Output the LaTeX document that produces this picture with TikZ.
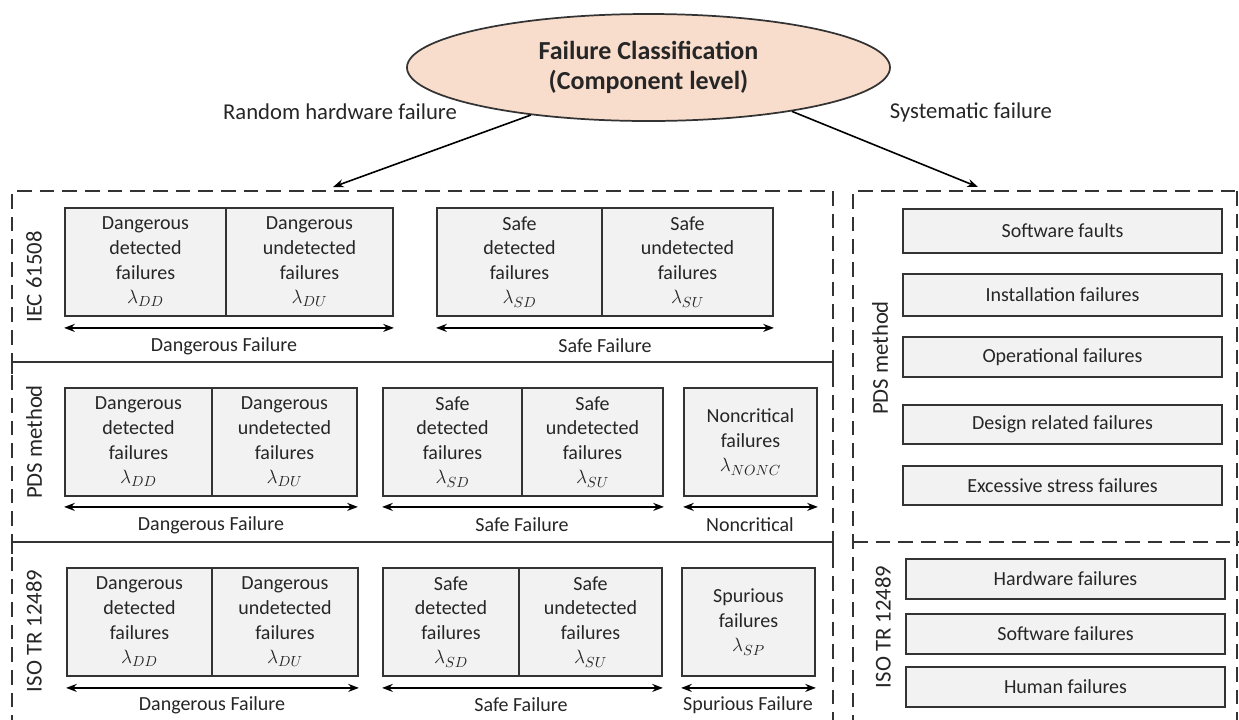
\documentclass[tikz,border=0pt]{standalone}
\usepackage{fontspec}
\setmainfont{Carlito}
\usetikzlibrary{shapes.geometric,arrows.meta}

\definecolor{cellfill}{HTML}{F2F2F2}
\definecolor{boxline}{HTML}{333333}
\definecolor{framecol}{HTML}{333333}
\definecolor{titlefill}{HTML}{F9DDCC}
\definecolor{textcol}{HTML}{262626}

\begin{document}
\begin{tikzpicture}[x=0.75pt,y=-0.75pt,
  cell/.style={draw=boxline, fill=cellfill, line width=1.35pt, inner sep=0pt,
    align=center, text=textcol, font=\fontsize{15}{18.4}\selectfont},
  % a cell given by its corners (x1,y1) and (x2,y2)
  corners/.style n args={4}{minimum width={(#3-#1)*0.75pt},
    minimum height={(#4-#2)*0.75pt}, at={({(#1+#3)/2},{(#2+#4)/2})}},
  span/.style={{Stealth[length=8pt,width=6pt]}-{Stealth[length=8pt,width=6pt]},
    line width=1.2pt, draw=black},
  pointer/.style={-{Stealth[length=8pt,width=6pt]}, line width=1.2pt, draw=black},
  caption/.style={inner sep=0pt, text=textcol, font=\fontsize{15}{18}\selectfont},
  branch/.style={inner sep=0pt, text=textcol, font=\fontsize{17}{20}\selectfont},
  side/.style={inner sep=0pt, rotate=90, text=textcol, font=\fontsize{17}{20}\selectfont},
  frame/.style={draw=framecol, line width=1.5pt, dash pattern=on 11pt off 6pt},
  rule/.style={draw=framecol, line width=1.5pt}
]
\useasboundingbox (0,0) rectangle (1239,719);
\fill[white] (0,0) rectangle (1239,719);

% ---- root of the classification ----
\node[ellipse, draw=framecol, line width=1.3pt, fill=titlefill, inner sep=0pt,
  minimum width=483*0.75pt, minimum height=107*0.75pt, align=center, text=textcol,
  font=\fontsize{19.5}{23}\selectfont\bfseries] (title) at (648.5,67.5)
  {Failure Classification\\(Component level)};

\node[branch] (randlbl) at (340,112) {Random hardware failure};
\node[branch] (syslbl) at (971,112) {Systematic failure};

\coordinate (randtip) at (333,187);
\coordinate (systip) at (978,187);
\draw[pointer] (title.202) -- (randtip);
\draw[pointer] (title.-17) -- (systip);

% ---- random hardware failure frame ----
\draw[frame] (12,730) -- (12,191) -- (833,191) -- (833,730);
\draw[rule] (12,374) -- (12,362) -- (833,362) -- (833,374);
\draw[rule] (12,554) -- (12,542) -- (833,542) -- (833,554);

\node[side] (iec) at (34,277) {IEC 61508};
\node[side] (pdsl) at (34,442) {PDS method};
\node[side] (isol) at (34,631) {ISO TR 12489};

% IEC 61508 row
\node[cell, corners={65}{208}{226}{316}] (iecdd) {Dangerous\\detected\\failures\\$\lambda_{DD}$};
\node[cell, corners={226}{208}{393}{316}] (iecdu) {Dangerous\\undetected\\failures\\$\lambda_{DU}$};
\node[cell, corners={437}{208}{602}{316}] (iecsd) {Safe\\detected\\failures\\$\lambda_{SD}$};
\node[cell, corners={602}{208}{773}{316}] (iecsu) {Safe\\undetected\\failures\\$\lambda_{SU}$};
\draw[span] ([yshift=-8.25pt]iecdd.south west) -- ([yshift=-8.25pt]iecdu.south east);
\draw[span] ([yshift=-8.25pt]iecsd.south west) -- ([yshift=-8.25pt]iecsu.south east);
\node[caption] (iecdcap) at (224,346) {Dangerous Failure};
\node[caption] (iecscap) at (605,346) {Safe Failure};

% PDS method row
\node[cell, corners={65}{388}{212}{496}] (pdsdd) {Dangerous\\detected\\failures\\$\lambda_{DD}$};
\node[cell, corners={212}{388}{357}{496}] (pdsdu) {Dangerous\\undetected\\failures\\$\lambda_{DU}$};
\node[cell, corners={383}{388}{522}{496}] (pdssd) {Safe\\detected\\failures\\$\lambda_{SD}$};
\node[cell, corners={522}{388}{663}{496}] (pdssu) {Safe\\undetected\\failures\\$\lambda_{SU}$};
\node[cell, corners={684}{388}{817}{496}] (pdsnc) {Noncritical\\failures\\$\lambda_{NONC}$};
\draw[span] ([yshift=-7.5pt]pdsdd.south west) -- ([yshift=-7.5pt]pdsdu.south east);
\draw[span] ([yshift=-7.5pt]pdssd.south west) -- ([yshift=-7.5pt]pdssu.south east);
\draw[span] ([yshift=-7.5pt]pdsnc.south west) -- ([yshift=-7.5pt]pdsnc.south east);
\node[caption] (pdsdcap) at (211,525) {Dangerous Failure};
\node[caption] (pdsscap) at (522,525) {Safe Failure};
\node[caption] (pdsncap) at (750,525) {Noncritical};

% ISO TR 12489 row
\node[cell, corners={67}{568}{212}{676}] (isodd) {Dangerous\\detected\\failures\\$\lambda_{DD}$};
\node[cell, corners={212}{568}{358}{676}] (isodu) {Dangerous\\undetected\\failures\\$\lambda_{DU}$};
\node[cell, corners={383}{568}{519}{676}] (isosd) {Safe\\detected\\failures\\$\lambda_{SD}$};
\node[cell, corners={519}{568}{662}{676}] (isosu) {Safe\\undetected\\failures\\$\lambda_{SU}$};
\node[cell, corners={682}{568}{815}{676}] (isosp) {Spurious\\failures\\$\lambda_{SP}$};
\draw[span] ([yshift=-8.25pt]isodd.south west) -- ([yshift=-8.25pt]isodu.south east);
\draw[span] ([yshift=-8.25pt]isosd.south west) -- ([yshift=-8.25pt]isosu.south east);
\draw[span] ([yshift=-8.25pt]isosp.south west) -- ([yshift=-8.25pt]isosp.south east);
\node[caption] (isodcap) at (212,705) {Dangerous Failure};
\node[caption] (isoscap) at (521,705) {Safe Failure};
\node[caption] (isospcap) at (748,705) {Spurious Failure};

% ---- systematic failure frame ----
\draw[frame] (853,730) -- (853,191) -- (1250,191);
\draw[frame] (1237,191) -- (1237,730);
\draw[frame] (853,542) -- (1250,542);

\node[side] (pdsr) at (880,358) {PDS method};
\node[side] (isor) at (883,627) {ISO TR 12489};

\node[cell, corners={903}{209}{1222}{253}] (swfault) {Software faults};
\node[cell, corners={903}{274}{1222}{316}] (install) {Installation failures};
\node[cell, corners={903}{337}{1222}{377}] (operat) {Operational failures};
\node[cell, corners={903}{405}{1222}{444}] (design) {Design related failures};
\node[cell, corners={903}{466}{1222}{505}] (stress) {Excessive stress failures};

\node[cell, corners={906}{559}{1225}{599}] (hwfail) {Hardware failures};
\node[cell, corners={906}{614}{1225}{654}] (swfail) {Software failures};
\node[cell, corners={906}{667}{1225}{707}] (human) {Human failures};
\end{tikzpicture}
\end{document}
